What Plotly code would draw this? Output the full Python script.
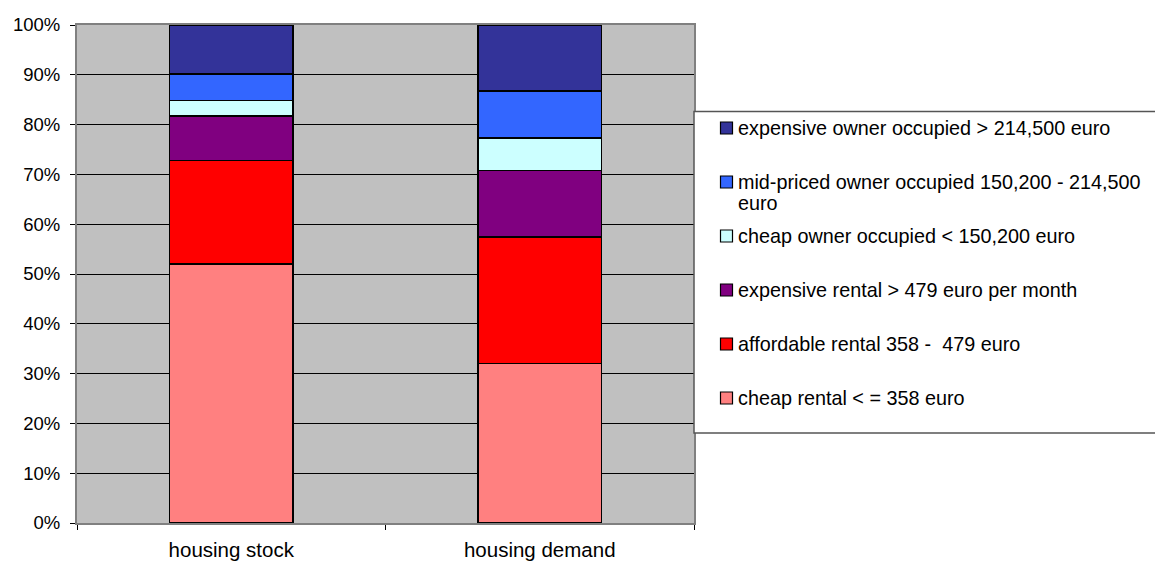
import plotly.graph_objects as go

categories = ["housing stock", "housing demand"]
series_names = [
    "cheap rental < = 358 euro",
    "affordable rental 358 -  479 euro",
    "expensive rental > 479 euro per month",
    "cheap owner occupied < 150,200 euro",
    "mid-priced owner occupied 150,200 - 214,500 euro",
    "expensive owner occupied > 214,500 euro",
]
cheap_rental = [52.0, 32.0]
affordable_rental = [20.8, 25.4]
expensive_rental = [8.9, 13.4]
cheap_owner = [3.1, 6.5]
mid_owner = [5.4, 9.4]
expensive_owner = [9.8, 13.3]
series_values = [cheap_rental, affordable_rental, expensive_rental,
                 cheap_owner, mid_owner, expensive_owner]
colors = ["#FF8080", "#FF0000", "#800080", "#CCFFFF", "#3366FF", "#333399"]
y_ticks = list(range(0, 101, 10))

W, H = 1155, 563
L, R, T, B = 77, 461, 25, 40
PW, PH = W - L - R, H - T - B


def px(x):
    return (x - L) / PW


def py(y):
    return (H - B - y) / PH


FONT = "Liberation Sans, Arial, sans-serif"

fig = go.Figure()
for name, vals, col in zip(series_names, series_values, colors):
    fig.add_trace(go.Bar(
        x=categories, y=vals, name=name, showlegend=False,
        marker=dict(color=col, line=dict(color="#000000", width=1.5)),
    ))

fig.update_layout(
    width=W, height=H,
    margin=dict(l=L, r=R, t=T, b=B, pad=0, autoexpand=False),
    barmode="stack", bargap=0.6,
    plot_bgcolor="#C0C0C0", paper_bgcolor="#FFFFFF",
    font=dict(family=FONT, color="#000000"),
    showlegend=False,
)
fig.update_xaxes(
    automargin=False,
    showline=True, linecolor="#808080", linewidth=2, mirror=True,
    ticks="outside", tickson="boundaries", ticklen=5, tickcolor="#000000",
    tickfont=dict(size=20.5, family=FONT), ticklabelstandoff=7,
    showgrid=False,
)
fig.update_yaxes(
    automargin=False,
    range=[0, 100], tickvals=y_ticks, ticktext=[f"{v}%" for v in y_ticks],
    showline=True, linecolor="#808080", linewidth=2, mirror=True,
    ticks="outside", ticklen=5, tickcolor="#000000",
    tickfont=dict(size=18.5, family=FONT), ticklabelstandoff=6,
    showgrid=True, gridcolor="#000000", gridwidth=1, zeroline=False,
)

# custom legend box (Excel style)
shapes = [dict(type="rect", xref="paper", yref="paper",
               x0=px(694), x1=px(1165), y0=py(433), y1=py(111.5),
               line=dict(color="#555555", width=1.5), fillcolor="#FFFFFF",
               layer="above")]
annotations = []
legend_rows = [128, 182, 236, 290, 344, 398]
legend_order = list(range(5, -1, -1))
for row_y, idx in zip(legend_rows, legend_order):
    shapes.append(dict(type="rect", xref="paper", yref="paper",
                       x0=px(720.5), x1=px(732.5), y0=py(row_y + 6), y1=py(row_y - 6),
                       line=dict(color="#000000", width=1.2), fillcolor=colors[idx],
                       layer="above"))
    name = series_names[idx]
    if idx == 4:
        lines = ["mid-priced owner occupied 150,200 - 214,500", "euro"]
    else:
        lines = [name]
    for k, line in enumerate(lines):
        annotations.append(dict(
            xref="paper", yref="paper", x=px(736), y=py(row_y + 21 * k),
            xanchor="left", yanchor="middle", showarrow=False,
            text=line, font=dict(size=19.8, family=FONT, color="#000000"),
        ))

fig.update_layout(shapes=shapes, annotations=annotations)
fig.write_html("out.html")
